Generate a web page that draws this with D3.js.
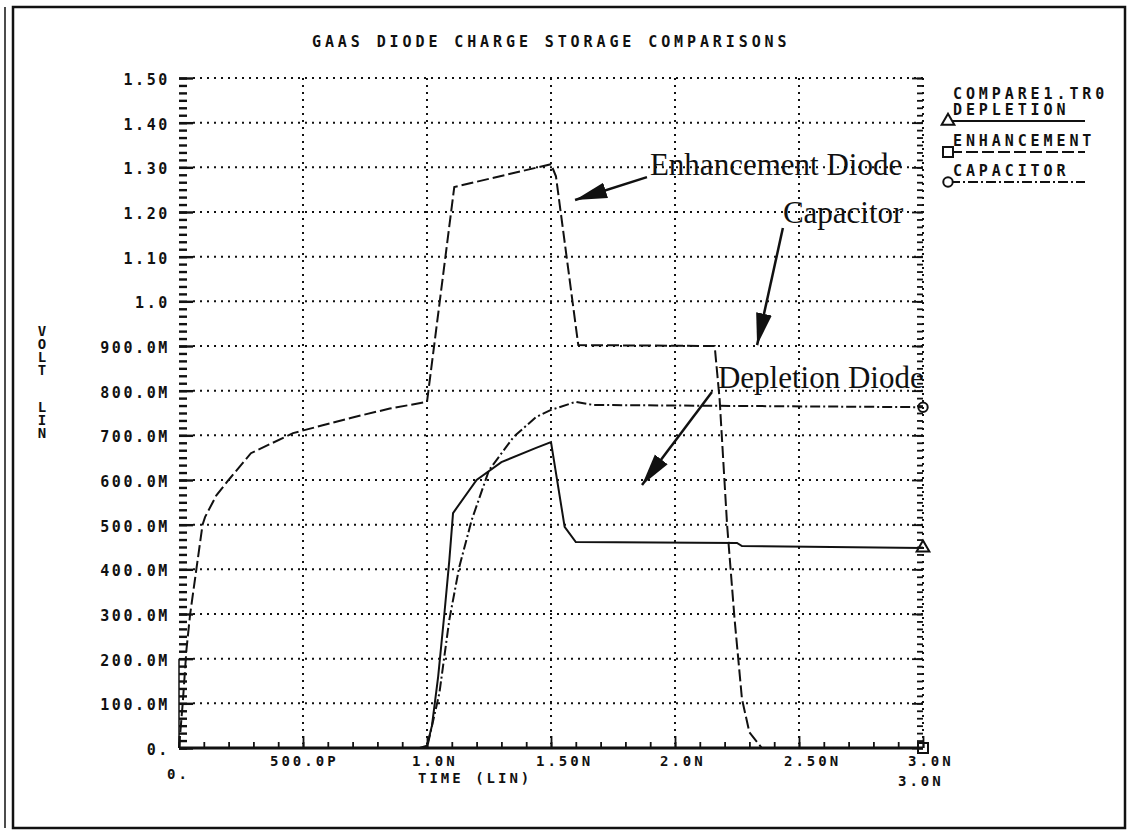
<!DOCTYPE html>
<html>
<head>
<meta charset="utf-8">
<script src="https://cdn.jsdelivr.net/npm/d3@7"></script>
<style>
  body { margin: 0; background: #fff; }
  svg { display: block; }
  .mono { font-family: "DejaVu Sans Mono", monospace; font-weight: bold; fill: #111; }
  .note { font-family: "Liberation Serif", "Times New Roman", serif; fill: #111; }
  .vert { writing-mode: vertical-rl; text-orientation: upright; }
</style>
</head>
<body>
<svg width="1128" height="834"></svg>
<script>
// time in ns, volts
var timeTicks = [0, 0.5, 1, 1.5, 2, 2.5, 3];
var timeLabels = ["0.", "500.0P", "1.0N", "1.50N", "2.0N", "2.50N", "3.0N"];
var voltTicks = [0, 0.1, 0.2, 0.3, 0.4, 0.5, 0.6, 0.7, 0.8, 0.9, 1.0, 1.1, 1.2, 1.3, 1.4, 1.5];
var voltLabels = ["0.", "100.0M", "200.0M", "300.0M", "400.0M", "500.0M", "600.0M", "700.0M",
  "800.0M", "900.0M", "1.0", "1.10", "1.20", "1.30", "1.40", "1.50"];

var depletionT = [0, 0.97, 1.0, 1.02, 1.045, 1.07, 1.09, 1.105, 1.2, 1.3, 1.44, 1.5, 1.555, 1.6, 2.25, 2.27, 3.0];
var depletionV = [0, 0, 0.005, 0.05, 0.16, 0.3, 0.42, 0.526, 0.6, 0.64, 0.672, 0.685, 0.495, 0.461, 0.459, 0.452, 0.448];

var enhanceT = [0, 0.015, 0.03, 0.045, 0.07, 0.095, 0.105, 0.15, 0.2, 0.29, 0.46, 0.7, 0.85, 1.0, 1.11,
  1.5, 1.52, 1.61, 2.16, 2.18, 2.21, 2.24, 2.27, 2.3, 2.35, 3.0];
var enhanceV = [0, 0.1, 0.22, 0.3, 0.4, 0.5, 0.517, 0.565, 0.6, 0.66, 0.705, 0.74, 0.76, 0.775, 1.256,
  1.307, 1.28, 0.902, 0.9, 0.78, 0.5, 0.29, 0.11, 0.035, 0, 0];

var capT = [0, 1.0, 1.05, 1.09, 1.13, 1.18, 1.25, 1.35, 1.44, 1.5, 1.6, 1.67, 3.0];
var capV = [0, 0, 0.123, 0.287, 0.405, 0.51, 0.622, 0.697, 0.741, 0.757, 0.775, 0.768, 0.763];

var legendNames = ["DEPLETION", "ENHANCEMENT", "CAPACITOR"];

// hand written notes: text anchor and arrow from/to, in data units
var noteText = ["Enhancement Diode", "Capacitor", "Depletion Diode"];
var noteAt = [[1.899, 1.283], [2.435, 1.175], [2.173, 0.806]];
var arrowFrom = [[1.887, 1.278], [2.435, 1.164], [2.149, 0.797]];
var arrowTo = [[1.597, 1.227], [2.331, 0.902], [1.867, 0.589]];

var svg = d3.select("svg");

var x = d3.scaleLinear().domain([0, 3]).range([179, 923]);
var y = d3.scaleLinear().domain([0, 1.5]).range([748, 78]);

// frame
svg.append("rect").attr("x", 13).attr("y", 7).attr("width", 1112).attr("height", 821)
  .attr("fill", "none").attr("stroke", "#111").attr("stroke-width", 2.5);
svg.append("line").attr("x1", 5).attr("x2", 5).attr("y1", 7).attr("y2", 828)
  .attr("stroke", "#111").attr("stroke-width", 1.5);

// title
svg.append("text").attr("class", "mono").attr("x", 312).attr("y", 47)
  .attr("font-size", 15).attr("letter-spacing", 3.9)
  .text("GAAS DIODE CHARGE STORAGE COMPARISONS");

//###############################################
// grid
//###############################################
var grid = svg.append("g").attr("stroke", "#111").attr("stroke-width", 2)
  .attr("stroke-dasharray", "2,5").attr("fill", "none");

grid.selectAll("line.h").data(voltTicks.slice(1)).enter().append("line")
  .attr("x1", x(0) + 14).attr("x2", x(3))
  .attr("y1", function(d) { return y(d); }).attr("y2", function(d) { return y(d); });

grid.selectAll("line.v").data(timeTicks.slice(1)).enter().append("line")
  .attr("x1", function(d) { return x(d); }).attr("x2", function(d) { return x(d); })
  .attr("y1", y(1.5)).attr("y2", y(0) - 4);

//###############################################
// axes (ruler style ticks)
//###############################################
var minorV = d3.range(0, 1.5001, 0.1 / 6);
var minorT = d3.range(0, 3.0001, 0.1);

function ruler(axis, tx, ty, width) {
  var g = svg.append("g")
    .attr("transform", "translate(" + tx + "," + ty + ")")
    .call(axis);
  g.select(".domain").remove();
  g.selectAll(".tick line").attr("stroke", "#111").attr("stroke-width", width);
  return g;
}

ruler(d3.axisRight(y).tickValues(minorV).tickSize(8).tickFormat(""), x(0), 0, 2.4);
ruler(d3.axisRight(y).tickValues(voltTicks).tickSize(14).tickFormat(""), x(0), 0, 2.4);
ruler(d3.axisLeft(y).tickValues(minorV).tickSize(6).tickFormat(""), x(3), 0, 1.8);
ruler(d3.axisLeft(y).tickValues(voltTicks).tickSize(11).tickFormat(""), x(3), 0, 1.8);
ruler(d3.axisTop(x).tickValues(minorT).tickSize(6).tickFormat(""), 0, y(0), 1.8);
ruler(d3.axisTop(x).tickValues(timeTicks).tickSize(12).tickFormat(""), 0, y(0), 1.8);

svg.append("line").attr("x1", x(0)).attr("x2", x(0)).attr("y1", y(0.2)).attr("y2", y(0))
  .attr("stroke", "#111").attr("stroke-width", 1.5);
svg.append("line").attr("x1", x(0)).attr("x2", x(3)).attr("y1", y(0)).attr("y2", y(0))
  .attr("stroke", "#111").attr("stroke-width", 3);

// tick labels
svg.selectAll("text.yl").data(voltTicks).enter().append("text")
  .attr("class", "mono").attr("font-size", 15).attr("letter-spacing", 2.6)
  .attr("text-anchor", "end")
  .attr("x", 170)
  .attr("y", function(d) { return y(d) + 7; })
  .text(function(d, i) { return voltLabels[i]; });

svg.selectAll("text.xl").data(timeTicks).enter().append("text")
  .attr("class", "mono").attr("font-size", 14).attr("letter-spacing", 3)
  .attr("x", function(d, i) { return i == 0 ? x(d) - 12 : i == 1 ? x(d) - 33 : x(d) - 15; })
  .attr("y", function(d, i) { return i == 0 ? 779 : 766; })
  .text(function(d, i) { return timeLabels[i]; });

svg.append("text").attr("class", "mono").attr("font-size", 14).attr("letter-spacing", 3)
  .attr("x", 418).attr("y", 783).text("TIME (LIN)");
svg.append("text").attr("class", "mono").attr("font-size", 14).attr("letter-spacing", 3)
  .attr("x", 898).attr("y", 786).text("3.0N");

// y axis title, stacked letters (one vertical text per word)
var yWords = ["VOLT", "LIN"];
var yWordTop = [323, 399];
yWords.forEach(function(w, k) {
  svg.append("text").attr("class", "mono vert").attr("font-size", 14)
    .attr("letter-spacing", -3)
    .attr("x", 42).attr("y", yWordTop[k])
    .text(w);
});

//###############################################
// curves
//###############################################
var line = d3.line()
  .x(function(d) { return x(d[0]); })
  .y(function(d) { return y(d[1]); });

var series = [
  { t: depletionT, v: depletionV, dash: null },
  { t: enhanceT, v: enhanceV, dash: "12,4" },
  { t: capT, v: capV, dash: "10,3,2,3" }
];

series.forEach(function(s) {
  svg.append("path")
    .datum(d3.zip(s.t, s.v))
    .attr("d", line)
    .attr("fill", "none").attr("stroke", "#111").attr("stroke-width", 2)
    .attr("stroke-dasharray", s.dash);
});

// end markers
var markerSym = [d3.symbolTriangle, d3.symbolSquare, d3.symbolCircle];
var markerSize = [70, 100, 70];
series.forEach(function(s, i) {
  var last = s.t.length - 1;
  svg.append("path")
    .attr("d", d3.symbol().type(markerSym[i]).size(markerSize[i]))
    .attr("transform", "translate(" + x(s.t[last]) + "," + y(s.v[last]) + ")")
    .attr("fill", "none").attr("stroke", "#111").attr("stroke-width", 2);
});

//###############################################
// legend
//###############################################
svg.append("text").attr("class", "mono").attr("font-size", 15).attr("letter-spacing", 3.9)
  .attr("x", 953).attr("y", 99).text("COMPARE1.TR0");

var legY = [121, 152, 182];
legendNames.forEach(function(name, i) {
  svg.append("text").attr("class", "mono").attr("font-size", 15).attr("letter-spacing", 3.9)
    .attr("x", 953).attr("y", legY[i] - 6).text(name);
  svg.append("line").attr("x1", 950).attr("x2", 1085)
    .attr("y1", legY[i]).attr("y2", legY[i])
    .attr("stroke", "#111").attr("stroke-width", 2)
    .attr("stroke-dasharray", series[i].dash);
  svg.append("path")
    .attr("d", d3.symbol().type(markerSym[i]).size(markerSize[i]))
    .attr("transform", "translate(948," + legY[i] + ")")
    .attr("fill", "#fff").attr("stroke", "#111").attr("stroke-width", 2);
});

//###############################################
// notes
//###############################################
svg.append("defs").append("marker")
  .attr("id", "head").attr("markerUnits", "userSpaceOnUse")
  .attr("viewBox", "0 -9 32 18").attr("refX", 32).attr("refY", 0)
  .attr("markerWidth", 32).attr("markerHeight", 18).attr("orient", "auto")
  .append("path").attr("d", "M0,-8L32,0L0,8Z").attr("fill", "#111");

noteText.forEach(function(t, i) {
  svg.append("text").attr("class", "note").attr("font-size", 31)
    .attr("x", x(noteAt[i][0])).attr("y", y(noteAt[i][1])).text(t);
  svg.append("line")
    .attr("x1", x(arrowFrom[i][0])).attr("y1", y(arrowFrom[i][1]))
    .attr("x2", x(arrowTo[i][0])).attr("y2", y(arrowTo[i][1]))
    .attr("stroke", "#111").attr("stroke-width", 2.5)
    .attr("marker-end", "url(#head)");
});
</script>
</body>
</html>
